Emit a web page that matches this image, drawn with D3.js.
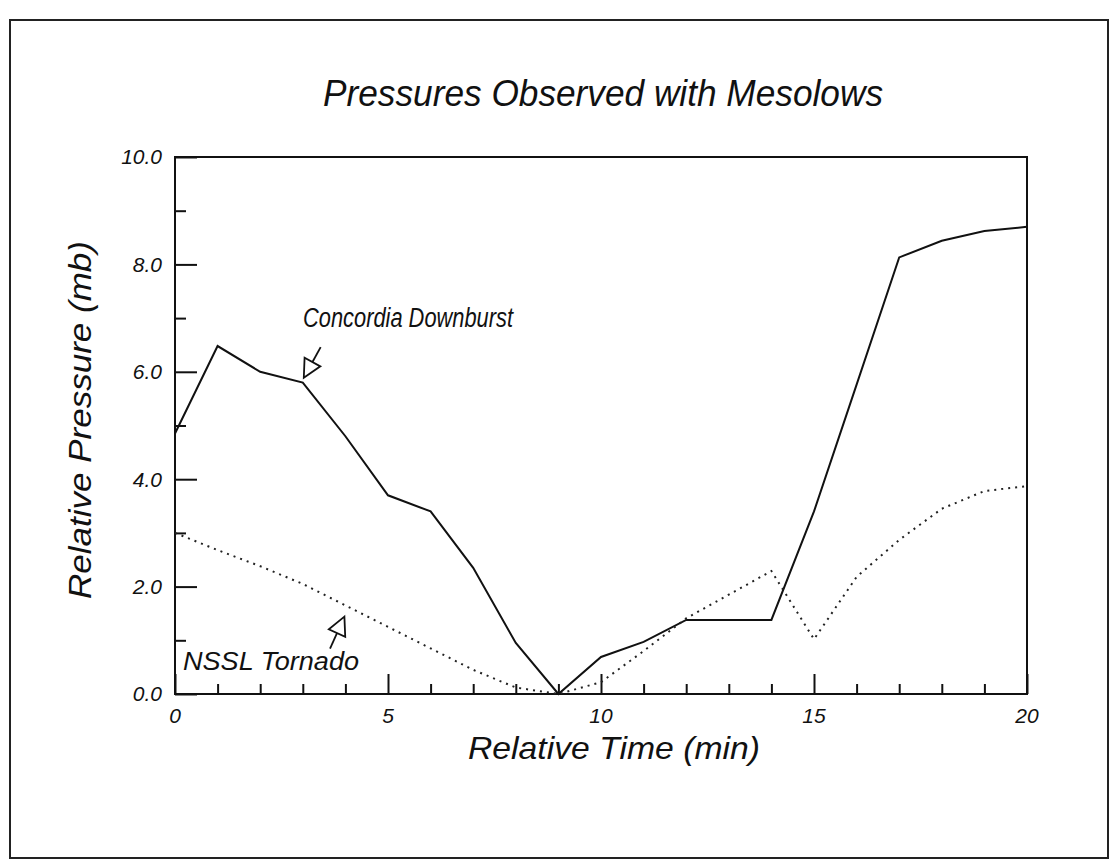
<!DOCTYPE html>
<html>
<head>
<meta charset="utf-8">
<script src="https://cdn.jsdelivr.net/npm/d3@7"></script>
<style>
    body { margin: 0; background: #fff; }
    text { font-family: "Liberation Sans", Arial, sans-serif; font-style: italic; fill: #111; }
</style>
</head>
<body>
<div id="chart"></div>
<script>

// relative time, minutes
var times = [0, 1, 2, 3, 4, 5, 6, 7, 8, 9, 10, 11, 12, 13, 14, 15, 16, 17, 18, 19, 20];

// relative pressure (mb)
var concordia = [4.85, 6.48, 6.0, 5.8, 4.8, 3.7, 3.4, 2.35, 0.95, 0.0, 0.69, 0.97, 1.38, 1.38, 1.38, 3.4, 5.76, 8.13, 8.44, 8.62, 8.7];
var nssl = [3.0, 2.68, 2.38, 2.05, 1.65, 1.25, 0.85, 0.45, 0.12, 0.0, 0.22, 0.8, 1.41, 1.85, 2.29, 1.02, 2.18, 2.87, 3.45, 3.78, 3.87];

var yMajor = [0, 2, 4, 6, 8, 10];
var yMinor = [1, 3, 5, 7, 9];
var xMajor = [0, 5, 10, 15, 20];

var width = 1117, height = 862;

var svg = d3.select('#chart').append('svg')
    .attr('width', width)
    .attr('height', height);

// outer frame
svg.append('rect')
    .attr('x', 10).attr('y', 20)
    .attr('width', 1098).attr('height', 838)
    .attr('fill', 'none')
    .attr('stroke', '#222')
    .attr('stroke-width', 2);

var x = d3.scaleLinear().domain([0, 20]).range([175, 1027]);
var y = d3.scaleLinear().domain([0, 10]).range([694, 157]);

// plot box
svg.append('rect')
    .attr('x', x(0)).attr('y', y(10))
    .attr('width', x(20) - x(0)).attr('height', y(0) - y(10))
    .attr('fill', 'none')
    .attr('stroke', '#111')
    .attr('stroke-width', 2);

// y axis ticks (inside)
svg.append('g')
    .attr('transform', 'translate(' + x(0) + ',0)')
    .call(d3.axisRight(y).tickValues(yMajor).tickSize(22).tickFormat(''))
    .call(function (g) { g.select('.domain').remove(); })
    .selectAll('line').attr('stroke', '#111').attr('stroke-width', 2);

svg.append('g')
    .attr('transform', 'translate(' + x(0) + ',0)')
    .call(d3.axisRight(y).tickValues(yMinor).tickSize(11).tickFormat(''))
    .call(function (g) { g.select('.domain').remove(); })
    .selectAll('line').attr('stroke', '#111').attr('stroke-width', 2);

svg.append('g').selectAll('text')
    .data(yMajor)
    .enter().append('text')
    .attr('x', 162)
    .attr('y', function (d) { return y(d); })
    .attr('dy', '0.35em')
    .attr('text-anchor', 'end')
    .style('font-size', '21px')
    .text(function (d) { return d3.format('.1f')(d); });

// x axis ticks (inside, pointing up)
svg.append('g')
    .attr('transform', 'translate(0,' + y(0) + ')')
    .call(d3.axisTop(x).tickValues(times.filter(function (d) { return d % 5 !== 0; })).tickSize(10).tickFormat(''))
    .call(function (g) { g.select('.domain').remove(); })
    .selectAll('line').attr('stroke', '#111').attr('stroke-width', 2);

svg.append('g')
    .attr('transform', 'translate(0,' + y(0) + ')')
    .call(d3.axisTop(x).tickValues(xMajor).tickSize(20).tickFormat(''))
    .call(function (g) { g.select('.domain').remove(); })
    .selectAll('line').attr('stroke', '#111').attr('stroke-width', 2);

svg.append('g').selectAll('text')
    .data(xMajor)
    .enter().append('text')
    .attr('x', function (d) { return x(d); })
    .attr('y', 723)
    .attr('text-anchor', 'middle')
    .style('font-size', '21px')
    .text(function (d) { return d; });

// series
var line = d3.line()
    .x(function (d, i) { return x(times[i]); })
    .y(function (d) { return y(d); });

svg.append('path')
    .datum(concordia)
    .attr('d', line)
    .attr('fill', 'none')
    .attr('stroke', '#111')
    .attr('stroke-width', 2);

svg.append('path')
    .datum(nssl)
    .attr('d', line)
    .attr('fill', 'none')
    .attr('stroke', '#222')
    .attr('stroke-width', 2)
    .attr('stroke-dasharray', '2,5');

// titles
svg.append('text')
    .attr('x', 603).attr('y', 106)
    .attr('text-anchor', 'middle')
    .attr('textLength', 560).attr('lengthAdjust', 'spacingAndGlyphs')
    .style('font-size', '36px')
    .text('Pressures Observed with Mesolows');

svg.append('text')
    .attr('x', 614).attr('y', 759)
    .attr('text-anchor', 'middle')
    .attr('textLength', 292).attr('lengthAdjust', 'spacingAndGlyphs')
    .style('font-size', '32px')
    .text('Relative Time (min)');

svg.append('text')
    .attr('transform', 'translate(91,420) rotate(-90)')
    .attr('text-anchor', 'middle')
    .attr('textLength', 358).attr('lengthAdjust', 'spacingAndGlyphs')
    .style('font-size', '32px')
    .text('Relative Pressure (mb)');

// annotations
function pointer(tipX, tipY, dx, dy) {
    // hollow arrowhead with a short stem, tip at (tipX, tipY)
    var len = Math.sqrt(dx * dx + dy * dy), ux = dx / len, uy = dy / len;
    var bx = tipX + ux * 18, by = tipY + uy * 18;
    var px = -uy * 9, py = ux * 9;
    svg.append('path')
        .attr('d', 'M' + tipX + ',' + tipY + 'L' + (bx + px) + ',' + (by + py) + 'L' + (bx - px) + ',' + (by - py) + 'Z')
        .attr('fill', 'none').attr('stroke', '#111').attr('stroke-width', 1.8);
    svg.append('line')
        .attr('x1', bx).attr('y1', by)
        .attr('x2', bx + ux * 17).attr('y2', by + uy * 17)
        .attr('stroke', '#111').attr('stroke-width', 1.8);
}

svg.append('text')
    .attr('x', 303).attr('y', 327)
    .attr('textLength', 210).attr('lengthAdjust', 'spacingAndGlyphs')
    .style('font-size', '27px')
    .text('Concordia Downburst');
pointer(x(3.0) + 1, y(6.0) + 6, 0.55, -1);

svg.append('text')
    .attr('x', 183).attr('y', 670)
    .attr('textLength', 176).attr('lengthAdjust', 'spacingAndGlyphs')
    .style('font-size', '26px')
    .text('NSSL Tornado');
pointer(x(4.0) - 1, y(1.44), -0.45, 1);

</script>
</body>
</html>
